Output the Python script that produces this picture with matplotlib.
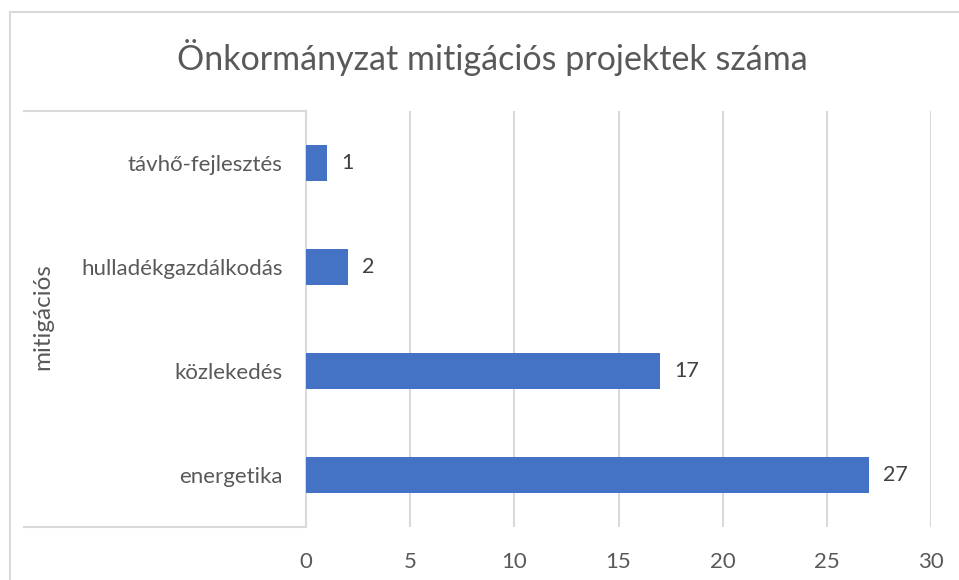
import matplotlib.pyplot as plt
from matplotlib.lines import Line2D

categories = ["energetika", "közlekedés", "hulladékgazdálkodás", "távhő-fejlesztés"]
values = [27, 17, 2, 1]
xticks = [0, 5, 10, 15, 20, 25, 30]
title = "Önkormányzat mitigációs projektek száma"
group_label = "mitigációs"

W, H = 959, 580
txt = "#595959"
grid = "#d9d9d9"
plt.rcParams['font.family'] = ['Lato', 'DejaVu Sans']

fig = plt.figure(figsize=(W / 100, H / 100), dpi=100)

# plot area in pixels: x 306..931, y 111..527
ax = fig.add_axes([306 / W, 1 - 527 / H, 625 / W, 416 / H])
ypos = range(len(categories))
bars = ax.barh(ypos, values, height=0.35, color="#4472C4", zorder=3)
for b, v in zip(bars, values):
    ax.text(b.get_width() + 0.7, b.get_y() + b.get_height() / 2, str(v),
            va="center", ha="left", fontsize=15.5, color="#404040")

ax.set_xlim(0, 30)
ax.set_ylim(-0.5, len(categories) - 0.5)
ax.set_xticks(xticks)
ax.set_yticks(list(ypos))
ax.set_yticklabels(categories)
ax.tick_params(axis="both", length=0, labelsize=16, colors=txt)
ax.tick_params(axis="x", pad=18)
ax.tick_params(axis="y", pad=17)
ax.xaxis.grid(True, color=grid, linewidth=1.5, zorder=0)
for s in ["top", "right", "bottom"]:
    ax.spines[s].set_visible(False)
ax.spines["left"].set_color(grid)
ax.spines["left"].set_linewidth(1.5)

# category group box
def px_line(x0, y0, x1, y1):
    fig.add_artist(Line2D([x0 / W, x1 / W], [1 - y0 / H, 1 - y1 / H],
                          transform=fig.transFigure, color=grid, linewidth=1.5))

px_line(24, 111, 306, 111)
px_line(24, 527, 306, 527)

# outer chart border
px_line(10, 12, W, 12)
px_line(10, 12, 10, H)

fig.text(43 / W, 1 - 317 / H, group_label, rotation=90, ha="center", va="center",
         fontsize=17.5, color=txt)
fig.text(492 / W, 1 - 57 / H, title, ha="center", va="center", fontsize=24.5, color=txt)

fig.savefig("out.png", dpi=100)
